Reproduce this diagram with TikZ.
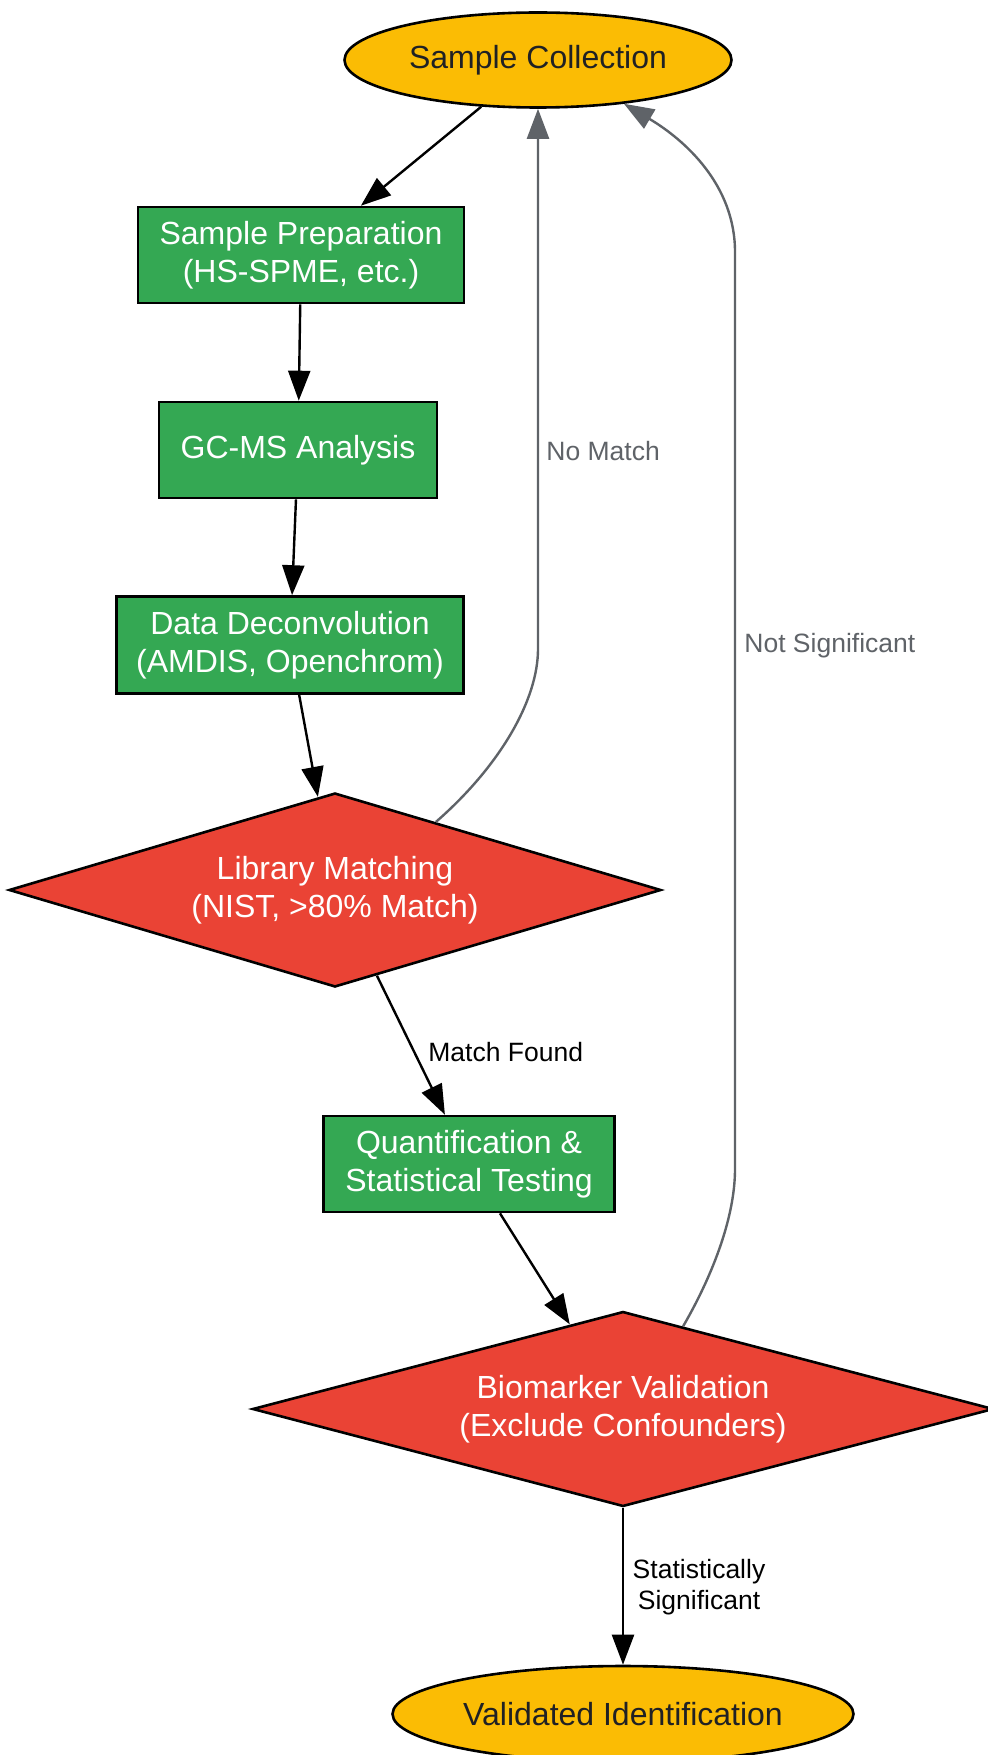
\documentclass[tikz,border=0pt]{standalone}
\usepackage{fontspec}
\setmainfont{Liberation Sans}
\definecolor{flowyellow}{HTML}{FBBC04}
\definecolor{flowgreen}{HTML}{34A853}
\definecolor{flowred}{HTML}{EA4335}
\definecolor{flowgray}{HTML}{5F6368}
\definecolor{flowtext}{HTML}{202124}
\usetikzlibrary{shapes.geometric,arrows.meta}

\begin{document}
\begin{tikzpicture}[x=0.5pt, y=-0.5pt,
    every node/.style={font=\fontsize{16}{19}\selectfont, inner sep=0pt, align=center},
    terminal/.style={draw, ellipse, line width=1.3pt, fill=flowyellow, text=flowtext},
    process/.style={draw, rectangle, line width=1.3pt, fill=flowgreen, text=white, minimum height=48pt},
    decision/.style={draw, diamond, line width=1.3pt, fill=flowred, text=white},
    flow/.style={-{Triangle[length=15pt,width=11pt]}, line width=1.2pt},
    back/.style={flow, color=flowgray},
    edgelabel/.style={font=\fontsize{13.25}{15.5}\selectfont}]
    \path[use as bounding box, fill=white] (0,0) rectangle (988,1755);

    % Start and end
    \node[terminal, minimum width=193.5pt, minimum height=47.5pt] (collect) at (538,60) {Sample Collection};
    \node[terminal, minimum width=230.5pt, minimum height=48pt] (final) at (623,1714) {Validated Identification};

    % Processing steps
    \node[process, minimum width=163pt] (prep) at (301,255) {Sample Preparation\\(HS-SPME, etc.)};
    \node[process, minimum width=139pt] (gcms) at (298,450) {GC-MS Analysis};
    \node[process, minimum width=173.5pt, minimum height=48.5pt] (decon) at (290,645) {Data Deconvolution\\(AMDIS, Openchrom)};
    \node[process, minimum width=145.5pt] (quant) at (469,1164) {Quantification \&\\Statistical Testing};

    % Decisions
    \node[decision, minimum width=326pt, minimum height=97pt, aspect=3.4] (match) at (335,890) {Library Matching\\(NIST, >80\% Match)};
    \node[decision, minimum width=370.5pt, minimum height=97.5pt, aspect=3.8] (valid) at (623,1409) {Biomarker Validation\\(Exclude Confounders)};

    % Main flow
    \draw[flow] (collect) -- (prep);
    \draw[flow] (prep) -- (gcms);
    \draw[flow] (gcms) -- (decon);
    \draw[flow] (decon) -- (match);
    \draw[flow] (match) -- (quant);
    \draw[flow] (quant) -- (valid);
    \draw[flow] (valid) -- (final);

    % Loops back
    \draw[back] (match.34.5) .. controls (500,766) and (538,700) .. (538,649) -- (collect.south);
    \draw[back] (valid.54) .. controls (710,1280) and (735,1220) .. (735,1169) -- (735,252) .. controls (735,185) and (685,140) .. (collect.-27);

    % Labels
    \node[edgelabel, text=flowgray, anchor=west] (nomatchlbl) at (546,451) {No Match};
    \node[edgelabel, text=flowgray, anchor=west] (notsiglbl) at (744,646) {Not Significant};
    \node[edgelabel, anchor=west] (foundlbl) at (428,1052) {Match Found};
    \node[edgelabel] (siglbl) at (699,1587) {Statistically\\Significant};
\end{tikzpicture}
\end{document}
